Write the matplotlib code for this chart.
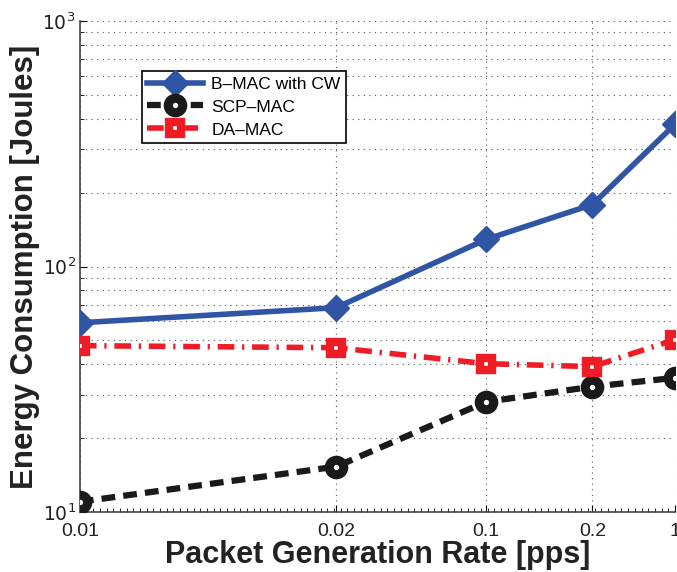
import numpy as np
import matplotlib
matplotlib.use("Agg")
import matplotlib.pyplot as plt

# ---------------------------------------------------------------------------
# Data
# ---------------------------------------------------------------------------
rate_labels = ["0.01", "0.02", "0.1", "0.2", "1"]
x_pos = [1, 2, 3, 4, 5]          # plotted on a log x axis, labelled by rate

bmac = [59, 68, 129, 179, 380]
scp = [11.0, 15.3, 28.1, 32.4, 35.2]
damac = [47.6, 46.7, 40.2, 39.1, 50.4]

plt.rcParams["font.family"] = ["Liberation Sans", "DejaVu Sans"]

fig = plt.figure(figsize=(6.77, 5.72), dpi=100)
ax = fig.add_axes([0.118, 0.105, 0.879, 0.858])

ax.plot(x_pos, bmac, "-", color="#2f55a4", lw=4, marker="D", ms=13,
        mfc="#2f55a4", mec="#2f55a4", label="B\u2013MAC with CW", zorder=3)
ax.plot(x_pos, scp, "--", color="#1a1a1a", lw=4.5, dashes=(2.2, 1.3), marker="o", ms=10.5,
        mfc="white", mec="#1a1a1a", mew=6.5, label="SCP\u2013MAC", zorder=3)
ax.plot(x_pos, damac, "-.", color="#ee1c24", lw=4, dashes=(3, 1.4, 0.4, 1.4), marker="s",
        ms=9, mfc="white", mec="#ee1c24", mew=6, label="DA\u2013MAC", zorder=3)

ax.set_xscale("log")
ax.set_yscale("log")
ax.set_xlim(1, 5)
ax.set_ylim(10, 1000)

ax.set_xticks(x_pos)
ax.set_xticklabels(rate_labels, fontsize=14, color="#222222")
ax.set_xticks(10 ** np.linspace(0, np.log10(5), 90), minor=True)
ax.xaxis.set_minor_formatter(matplotlib.ticker.NullFormatter())

ax.set_yticks([10, 100, 1000])
ax.set_yticklabels([r"$10^{1}$", r"$10^{2}$", r"$10^{3}$"], fontsize=13.5, color="#222222")

ax.tick_params(which="both", direction="in", top=False, right=False)
ax.tick_params(which="major", length=5, width=0.8)
ax.tick_params(axis="x", which="major", pad=8)
ax.tick_params(axis="y", which="major", pad=3)
ax.tick_params(which="minor", length=3, width=0.6)

ax.grid(True, which="major", axis="x", linestyle=(0, (1, 4)), color="#555555", lw=0.8)
ax.grid(True, which="both", axis="y", linestyle=(0, (1, 4)), color="#555555", lw=0.8)

for side in ["top", "right"]:
    ax.spines[side].set_visible(False)
for side in ["left", "bottom"]:
    ax.spines[side].set_color("#444444")
    ax.spines[side].set_linewidth(1.2)

ax.set_xlabel("Packet Generation Rate [pps]", fontsize=22, fontweight="bold",
              color="#222222", labelpad=0)
ax.set_ylabel("Energy Consumption [Joules]", fontsize=22.5, fontweight="bold",
              color="#222222", labelpad=2)

leg = ax.legend(loc="upper left", bbox_to_anchor=(0.104, 0.898), fontsize=12.5,
                frameon=True, fancybox=False, edgecolor="black", framealpha=1,
                borderpad=0.3, labelspacing=0.45, handlelength=3.2, handletextpad=0.5,
                borderaxespad=0)
leg.get_frame().set_linewidth(1.2)

fig.savefig("out.png", dpi=100)
